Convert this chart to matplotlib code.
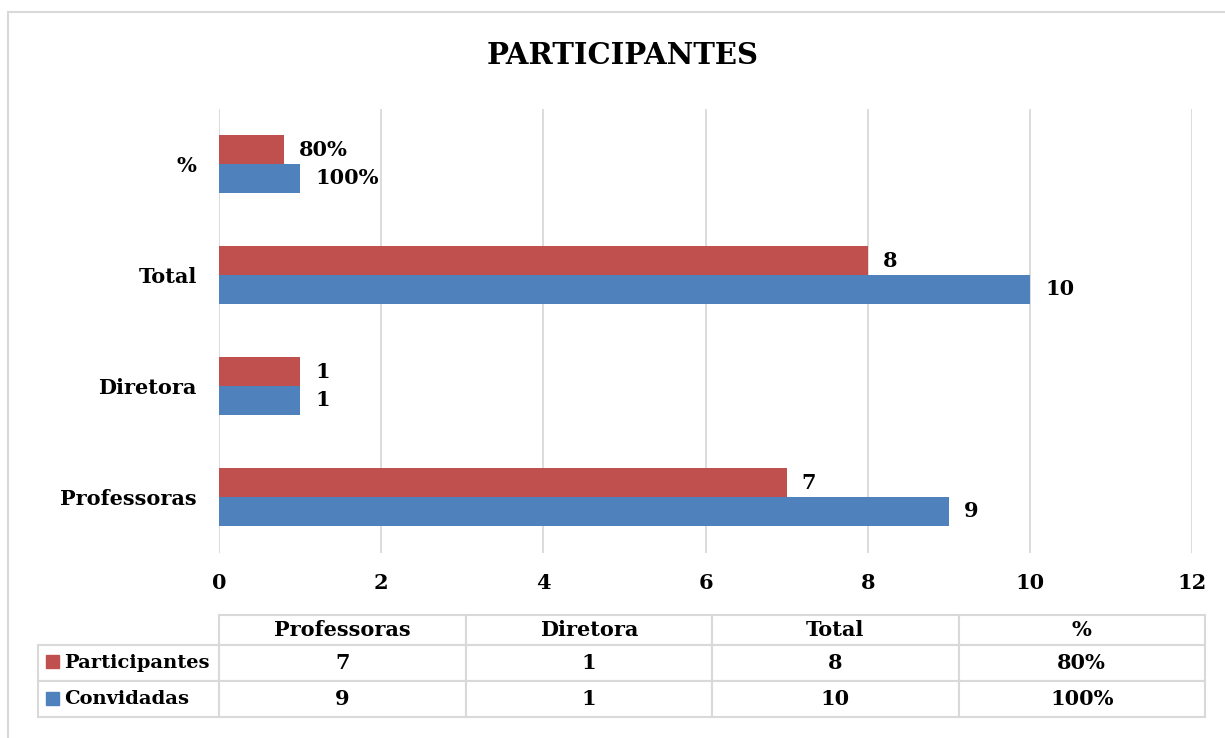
import matplotlib
matplotlib.use('Agg')
import matplotlib.pyplot as plt
import numpy as np
from matplotlib.patches import Rectangle
from matplotlib.table import Table

plt.rcParams['font.family'] = ['DejaVu Serif']
plt.rcParams['font.weight'] = 'bold'

# data
categories = ['Professoras', 'Diretora', 'Total', '%']
participantes = [7, 1, 8, 0.8]
convidadas = [9, 1, 10, 1.0]
series_names = ['Participantes', 'Convidadas']
title = 'PARTICIPANTES'

RED = '#C0504D'
BLUE = '#4F81BD'
GRID = '#D9D9D9'
FS = 15


def fmt(cat, v):
    if cat == '%':
        return '%d%%' % round(v * 100)
    return '%g' % v


# layout helpers (pixel -> axes coords)
AX_L, AX_R, AX_T, AX_B = 219, 1192, 108.5, 552.5
W, H = 1225, 738
AW, AH = AX_R - AX_L, AX_B - AX_T


def axx(px):
    return (px - AX_L) / AW


def axy(py):
    return (AX_B - py) / AH


fig = plt.figure(figsize=(12.25, 7.38), dpi=100)
ax = fig.add_axes([AX_L / W, 1 - AX_B / H, AW / W, AH / H])

y = np.arange(len(categories))
h = 0.261
b1 = ax.barh(y + h / 2, participantes, height=h, color=RED, zorder=3)
b2 = ax.barh(y - h / 2, convidadas, height=h, color=BLUE, zorder=3)
ax.bar_label(b1, labels=[fmt(c, v) for c, v in zip(categories, participantes)],
             padding=11, fontsize=FS, fontweight='bold')
ax.bar_label(b2, labels=[fmt(c, v) for c, v in zip(categories, convidadas)],
             padding=11, fontsize=FS, fontweight='bold')

ax.set_xlim(0, 12)
ax.set_ylim(-0.5, len(categories) - 0.5)
ax.set_xticks(range(0, 13, 2))
ax.set_yticks(y)
ax.set_yticklabels(categories)
ax.tick_params(axis='both', length=0, labelsize=FS)
ax.tick_params(axis='y', pad=16)
ax.tick_params(axis='x', pad=15)
ax.grid(axis='x', color=GRID, linewidth=1.3, zorder=0)
for s in ax.spines.values():
    s.set_visible(False)

fig.text(0.508, 1 - 55 / H, title, ha='center', va='center', fontsize=21, fontweight='bold')

# data table (sizes in axes units so the bbox scale stays 1)
lab_w, col_w = 181 / AW, 246.5 / AW
head_h, row_h = 30 / AH, 36 / AH
tbl = Table(ax, bbox=[0, axy(717), 4 * col_w, head_h + 2 * row_h])
for j, c in enumerate(categories):
    tbl.add_cell(0, j, col_w, head_h, text=c, loc='center', facecolor='white', edgecolor=GRID)
rows = [participantes, convidadas]
label_cells = []
for i, (name, vals) in enumerate(zip(series_names, rows), start=1):
    cell = tbl.add_cell(i, -1, lab_w, row_h, text=name, loc='left', facecolor='white', edgecolor=GRID)
    cell.PAD = 26 / 181
    label_cells.append(cell)
    for j, (c, v) in enumerate(zip(categories, vals)):
        tbl.add_cell(i, j, col_w, row_h, text=fmt(c, v), loc='center', facecolor='white', edgecolor=GRID)
tbl.auto_set_font_size(False)
tbl.set_fontsize(FS)
for cell in tbl.get_celld().values():
    cell.set_linewidth(1.5)
    cell.get_text().set_fontweight('bold')
for cell in label_cells:
    cell.get_text().set_fontsize(14)
ax.add_table(tbl)

# legend keys inside the table
for color, cy in [(RED, 661), (BLUE, 698)]:
    ax.add_patch(Rectangle((axx(46), axy(cy + 6.5)), 13 / AW, 13 / AH,
                           transform=ax.transAxes, color=color, clip_on=False, zorder=5))

# chart border
fig.add_artist(Rectangle((8 / W, -0.1), 1.2, 1.1 - 12 / H, transform=fig.transFigure,
                         fill=False, edgecolor=GRID, linewidth=1.5))

fig.savefig('out.png', dpi=100, facecolor='white')
